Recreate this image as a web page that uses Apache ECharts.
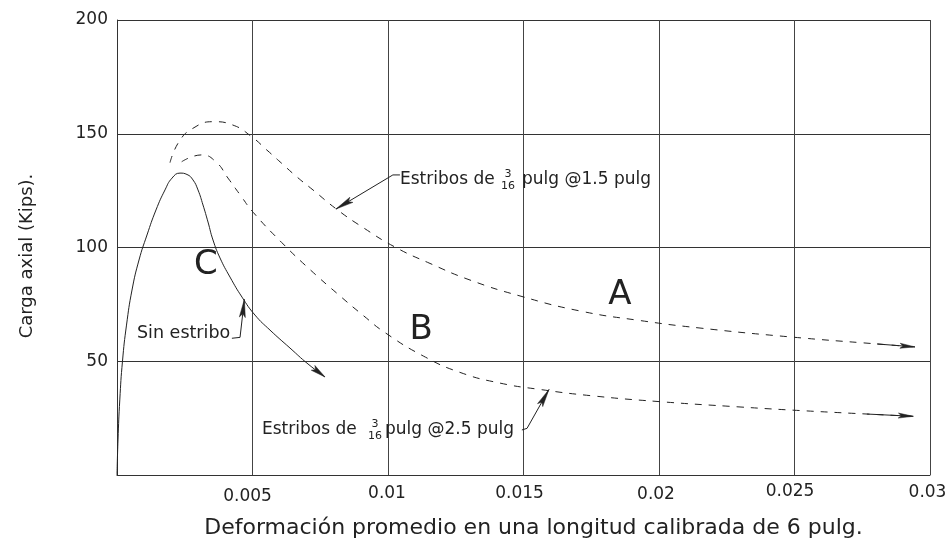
<!DOCTYPE html>
<html><head><meta charset="utf-8">
<script src="https://cdn.jsdelivr.net/npm/echarts@6/dist/echarts.min.js"></script>
<style>html,body{margin:0;padding:0;background:#fff}#c{width:948px;height:543px}</style>
</head><body><div id="c"></div>
<script>
// ---- data ----
const xTicks = ['0.005', '0.01', '0.015', '0.02', '0.025', '0.03'];
const yTicks = ['50', '100', '150', '200'];
const xTitle = 'Deformación promedio en una longitud calibrada de 6 pulg.';
const yTitle = 'Carga axial (Kips).';

// Curve A: estribos 3/16 pulg @1.5 pulg (dashed, upper)
const curveA = [[0.001956,137.3],[0.002288,146.5],[0.002804,152.4],[0.003542,155.3],[0.00428,153.8],
  [0.00497,148.7],[0.005524,142.9],[0.006077,137],[0.006631,131.1],[0.007232,125.3],[0.008118,116.7],
  [0.009077,108.8],[0.010258,100.2],[0.01155,93],[0.013026,85.7],[0.014871,78.7],[0.017085,72.1],
  [0.019299,67.9],[0.021513,64.6],[0.024834,60.7],[0.028044,57.6],[0.029446,56.3]];
// Curve B: estribos 3/16 pulg @2.5 pulg (dashed, lower)
const curveB = [[0.002387,137.7],[0.003125,140.7],[0.003653,137.6],[0.004096,130.5],[0.004576,122.6],
  [0.00503,115.4],[0.006077,102.2],[0.007122,90.3],[0.008229,78.7],[0.009089,70.1],[0.009889,62.6],
  [0.011303,52.3],[0.012657,45.1],[0.014133,40.4],[0.015609,37.6],[0.017454,34.9],[0.019963,32.3],
  [0.022989,29.9],[0.024945,28.5],[0.027664,26.8],[0.029384,25.8]];
// Curve C: sin estribo (solid)
const curveC = [[0,0],[0.000037,15.4],[0.000103,33],[0.000203,50.1],[0.000351,65.9],[0.000554,81.3],
  [0.000812,94.5],[0.001107,105.5],[0.001439,116.5],[0.001771,125.3],[0.00203,130.5],[0.002325,132.7],
  [0.002583,132.1],[0.002804,129.7],[0.002989,125.3],[0.003173,118.7],[0.003358,111.2],[0.003542,103.3],
  [0.003801,95.4],[0.00417,87],[0.004613,78.2],[0.005092,70.3],[0.005646,63.7],[0.006384,55.8],
  [0.007048,48.8],[0.007675,43.1]];

// Annotation anchors in data coordinates
const letters = [['A',0.01856,79.1],['B',0.01122,63.7],['C',0.00328,92.3]];
const note15 = {pre:'Estribos de', num:'3', den:'16', post:'pulg @1.5 pulg', start:[0.010443,129.67], frac:0.014428, postX:0.014945};
const note25 = {pre:'Estribos de', num:'3', den:'16', post:'pulg @2.5 pulg', start:[0.005351,19.78], frac:0.009520, postX:0.009889};
const noteSin = {text:'Sin estribo', start:[0.000738,62.1]};
const lead15 = [[0.01044,131.9],[0.01018,131.9],[0.00808,116.9]];
const lead25 = [[0.01494,19.8],[0.01513,20.5],[0.01594,37.6]];
const leadSin = [[0.00424,60.1],[0.00454,60.5],[0.0047,77.2]];

// ---- styles ----
const FONT = 'DejaVu Sans';
const INK = '#222';
const xLabelPad = [[5,10],[2,2],[2,8],[3,6],[0,9],[1,5]]; // [top, right] per x tick label

const rich = {};
xLabelPad.forEach((p,i)=>{ rich['t'+(i+1)] = {fontFamily:FONT,fontSize:17,color:INK,padding:[p[0],p[1],0,0]}; });

const chart = echarts.init(document.getElementById('c'), null, {renderer:'canvas'});
const option = {
  animation:false,
  backgroundColor:'#fff',
  grid:{left:117,right:18,top:20,bottom:68,containLabel:false,outerBoundsMode:'none'},
  xAxis:{type:'value',min:0,max:0.03,interval:0.005,
    name:xTitle,nameLocation:'middle',nameGap:42,
    nameTextStyle:{fontFamily:FONT,fontSize:22,color:INK,padding:[0,0,0,20]},
    axisLine:{show:true,onZero:false,lineStyle:{color:'#333',width:1}},
    axisTick:{show:false},
    axisLabel:{showMinLabel:false,showMaxLabel:true,margin:8,fontFamily:FONT,fontSize:17,color:INK,rich:rich,
      formatter:v=>{const i=Math.round(v/0.005);return i>0?('{t'+i+'|'+xTicks[i-1]+'}'):'';}},
    splitLine:{show:true,lineStyle:{color:'#444',width:1}}},
  yAxis:{type:'value',min:0,max:200,interval:50,
    name:yTitle,nameLocation:'middle',nameGap:81,nameRotate:90,
    nameTextStyle:{fontFamily:FONT,fontSize:18,color:INK,padding:[0,17,0,0]},
    axisLine:{show:true,onZero:false,lineStyle:{color:'#333',width:1}},
    axisTick:{show:false},
    axisLabel:{showMinLabel:false,margin:9,fontFamily:FONT,fontSize:17,color:INK,
      formatter:v=>{const i=Math.round(v/50);return i>0?yTicks[i-1]:'';}},
    splitLine:{show:true,lineStyle:{color:'#333',width:1}}},
  series:[
    {type:'line',name:'A',data:curveA,showSymbol:false,symbol:'none',smooth:0.5,silent:true,
      lineStyle:{color:INK,width:1,type:[7,7]}},
    {type:'line',name:'B',data:curveB,showSymbol:false,symbol:'none',smooth:0.5,silent:true,
      lineStyle:{color:INK,width:1,type:[7,7]}},
    {type:'line',name:'C',data:curveC,showSymbol:false,symbol:'none',smooth:0.5,silent:true,
      lineStyle:{color:INK,width:1}}
  ]
};
chart.setOption(option);

const P = d => chart.convertToPixel({gridIndex:0}, d);
function arrowHead(tipD, fromD, len, wid){
  const t = P(tipD), f = P(fromD);
  let dx = t[0]-f[0], dy = t[1]-f[1]; const L = Math.hypot(dx,dy)||1; dx/=L; dy/=L;
  const bx = t[0]-dx*len, by = t[1]-dy*len, px=-dy*wid/2, py=dx*wid/2;
  const nx = t[0]-dx*len*0.8, ny = t[1]-dy*len*0.8;
  return {type:'polygon',silent:true,z:10,shape:{points:[t,[bx+px,by+py],[nx,ny],[bx-px,by-py]]},style:{fill:INK,stroke:INK,lineWidth:0.5}};
}
function polyline(pts, w){ return {type:'polyline',silent:true,z:10,shape:{points:pts.map(P)},style:{stroke:INK,lineWidth:w||1,fill:null}}; }
function txt(s, d, size, align, dx, dy){
  const p = P(d);
  return {type:'text',silent:true,z:10,x:p[0]+(dx||0),y:p[1]+(dy||0),
    style:{text:s,fontFamily:FONT,fontSize:size,fill:INK,align:align||'left',verticalAlign:'middle'}};
}
function fracNote(n){
  const out = [];
  out.push(txt(n.pre, n.start, 17, 'left'));
  const fc = [n.frac, n.start[1]];
  out.push(txt(n.num, fc, 11, 'center', 0, -6));
  out.push(txt(n.den, fc, 11, 'center', 0, 6));
  out.push(txt(n.post, [n.postX, n.start[1]], 17, 'left'));
  return out;
}

const g = [];
letters.forEach(l=>g.push(txt(l[0],[l[1],l[2]],34,'center')));
g.push(...fracNote(note15));
g.push(...fracNote(note25));
g.push(txt(noteSin.text, noteSin.start, 17.5, 'left'));
[lead15, lead25, leadSin].forEach(ld=>{
  g.push(polyline(ld, 1));
  g.push(arrowHead(ld[ld.length-1], ld[ld.length-2], 18, 6));
});
// arrow heads at curve ends, with a solid shaft on the dashed curves
[curveA, curveB].forEach(cv=>{
  const a = cv[cv.length-2], b = cv[cv.length-1];
  g.push(polyline([a,b],1));
  g.push(arrowHead(b, a, 15, 5));
});
g.push(arrowHead(curveC[curveC.length-1], curveC[curveC.length-2], 15, 6));

chart.setOption({graphic:{elements:g}});
</script>
</body></html>
